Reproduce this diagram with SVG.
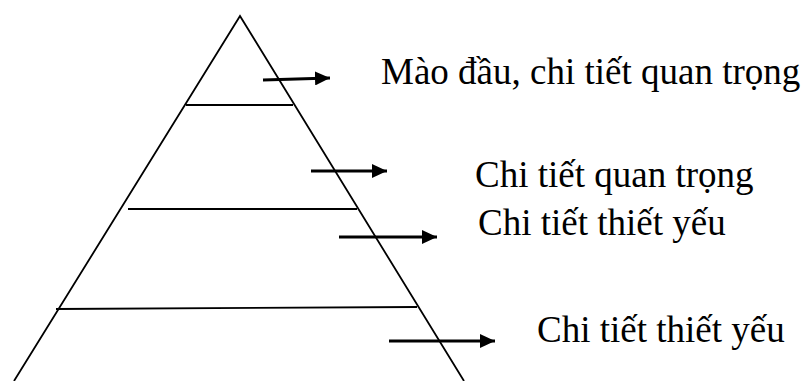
<svg xmlns="http://www.w3.org/2000/svg" width="804" height="381" viewBox="0 0 804 381">
<style>
.edge{stroke:#000;stroke-width:1.8;fill:none}
.band{stroke:#000;stroke-width:1.8;fill:none}
.arr{stroke:#000;stroke-width:3;fill:none}
.lbl{font-family:"Liberation Serif","Times New Roman",serif;font-size:37px;fill:#000}
</style>
<defs>
<marker id="ah" markerUnits="userSpaceOnUse" markerWidth="16" markerHeight="14" refX="15" refY="7" orient="auto">
<polygon points="0,0 15,7 0,14" fill="#000"/>
</marker>
</defs>
<rect width="804" height="381" fill="#fff"/>
<g id="pyramid">
<polyline class="edge" points="14,381 240,16 464,381"/>
<line class="band" x1="186" y1="105" x2="293" y2="105"/>
<line class="band" x1="128" y1="209" x2="357" y2="209"/>
<line class="band" x1="56" y1="309" x2="417" y2="307"/>
</g>
<g id="connectors">
<line class="arr" x1="263" y1="80" x2="330" y2="78" marker-end="url(#ah)"/>
<line class="arr" x1="311" y1="171" x2="387" y2="171" marker-end="url(#ah)"/>
<line class="arr" x1="339" y1="237" x2="437" y2="237" marker-end="url(#ah)"/>
<line class="arr" x1="389" y1="341" x2="495" y2="341" marker-end="url(#ah)"/>
</g>
<g id="label1"><text class="lbl" x="381" y="84">Mào đầu, chi tiết quan trọng</text></g>
<g id="label2"><text class="lbl" x="475" y="187">Chi tiết quan trọng</text></g>
<g id="label3"><text class="lbl" x="478" y="235">Chi tiết thiết yếu</text></g>
<g id="label4"><text class="lbl" x="537" y="342">Chi tiết thiết yếu</text></g>
</svg>
